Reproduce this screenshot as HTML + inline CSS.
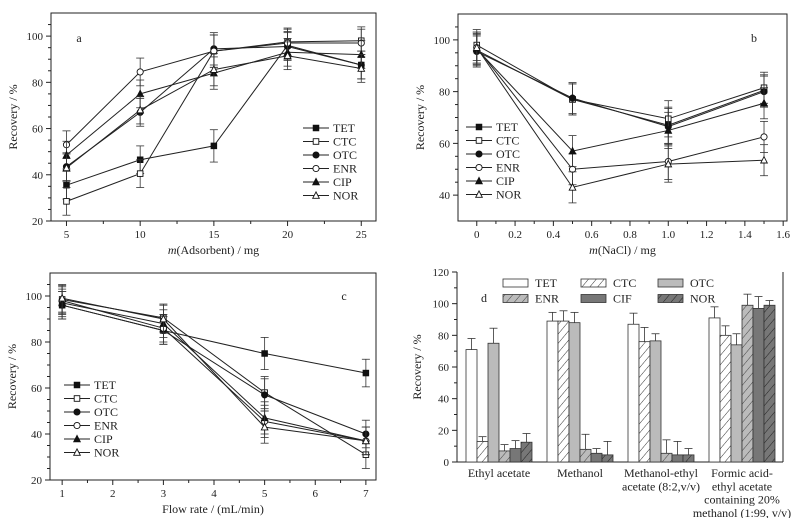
<!DOCTYPE html>
<html><head><meta charset="utf-8"><style>
body{margin:0;background:#fff;}
svg{display:block;}
svg text{font-family:"Liberation Serif","Times New Roman",serif;fill:#222;}
</style></head><body>
<svg id="fig" width="800" height="518" viewBox="0 0 800 518" xmlns="http://www.w3.org/2000/svg">
<defs>
<pattern id="hatchW" width="6" height="6" patternUnits="userSpaceOnUse" patternTransform="rotate(40)"><rect width="6" height="6" fill="#fff"/><line x1="0" y1="0" x2="0" y2="6" stroke="#333" stroke-width="1"/></pattern>
<pattern id="hatchL" width="6" height="6" patternUnits="userSpaceOnUse" patternTransform="rotate(40)"><rect width="6" height="6" fill="#bbb"/><line x1="0" y1="0" x2="0" y2="6" stroke="#444" stroke-width="1"/></pattern>
<pattern id="hatchD" width="6" height="6" patternUnits="userSpaceOnUse" patternTransform="rotate(40)"><rect width="6" height="6" fill="#777"/><line x1="0" y1="0" x2="0" y2="6" stroke="#222" stroke-width="1"/></pattern>
</defs>
</svg>
<script>
// ---- Panel a data ----
const aX = [5, 10, 15, 20, 25];
const aTET = [35.5, 46.5, 52.5, 96, 87.5];
const aCTC = [28.5, 40.5, 93.5, 97.5, 98];
const aOTC = [43.5, 67, 94.5, 95.5, 87.5];
const aENR = [53, 84.5, 93.5, 97, 97];
const aCIP = [48.5, 75, 84, 93, 92];
const aNOR = [43, 68, 85.5, 91.5, 86];
const aXTicks = [5, 10, 15, 20, 25];
const aYTicks = [20, 40, 60, 80, 100];
// ---- Panel b data ----
const bX = [0, 0.5, 1.0, 1.5];
const bTET = [96, 77, 67, 80.5];
const bCTC = [98, 77, 69.5, 81.5];
const bOTC = [95.5, 77.5, 66.5, 80];
const bENR = [97, 50, 53, 62.5];
const bCIP = [96.5, 57, 65, 75.5];
const bNOR = [97, 43, 52, 53.5];
const bXTicks = ["0", "0.2", "0.4", "0.6", "0.8", "1.0", "1.2", "1.4", "1.6"];
const bYTicks = [40, 60, 80, 100];
// ---- Panel c data ----
const cX = [1, 3, 5, 7];
const cTET = [96, 85, 75, 66.5];
const cCTC = [98.5, 90.5, 58, 31];
const cOTC = [96, 85, 57, 40];
const cENR = [98, 86, 45.5, 37];
const cCIP = [97, 88, 47, 37];
const cNOR = [99, 90, 43, 37];
const cXTicks = [1, 2, 3, 4, 5, 6, 7];
const cYTicks = [20, 40, 60, 80, 100];
// shared error magnitude
const lineErr = [6, 6, 7, 6];
// ---- Panel d data ----
const dCats = [["Ethyl acetate"], ["Methanol"], ["Methanol-ethyl", "acetate (8:2,v/v)"], ["Formic acid-", "ethyl acetate", "containing 20%", "methanol (1:99, v/v)"]];
const dTET = [71, 89, 87, 91];
const dCTC = [13, 89, 76, 80];
const dOTC = [75, 88, 76.5, 74];
const dENR = [7, 8, 5.5, 99];
const dCIF = [8.5, 5.5, 4.5, 97];
const dNOR = [12.5, 4.5, 4.5, 99];
const dTETe = [7, 5.5, 7, 7];
const dCTCe = [3, 6.5, 9, 6];
const dOTCe = [9.5, 6.5, 4.5, 7];
const dENRe = [4, 9.5, 8.5, 7];
const dCIFe = [5, 3, 8.5, 7.5];
const dNORe = [5.5, 8.5, 4, 3];
const dYTicks = [0, 20, 40, 60, 80, 100, 120];

const NS = "http://www.w3.org/2000/svg";
const svg = document.getElementById("fig");
function mk(tag, attrs, parent) {
  const e = document.createElementNS(NS, tag);
  for (const k in attrs) e.setAttribute(k, attrs[k]);
  (parent || svg).appendChild(e);
  return e;
}
function txt(s, x, y, size, anchor, parent) {
  const t = mk("text", {x: x, y: y, "font-size": size, "text-anchor": anchor || "middle", "font-family": "Liberation Serif, serif"}, parent);
  t.textContent = s;
  return t;
}
function marker(g, type, x, y) {
  const s = 2.8;
  let m;
  const fill = (type % 2 === 0) ? "#111" : "#fff";
  if (type < 2) m = mk("rect", {x: x - s, y: y - s, width: 2 * s, height: 2 * s, fill: fill, stroke: "#111", "stroke-width": 0.9}, g);
  else if (type < 4) m = mk("circle", {cx: x, cy: y, r: s + 0.3, fill: fill, stroke: "#111", "stroke-width": 0.9}, g);
  else m = mk("polygon", {points: `${x},${y - s - 0.8} ${x - s - 0.5},${y + s} ${x + s + 0.5},${y + s}`, fill: fill, stroke: "#111", "stroke-width": 0.9}, g);
  return m;
}

function linePanel(o) {
  const g = mk("g", {});
  
  
  const sx = v => o.L + (v - o.x0) / (o.x1 - o.x0) * (o.R - o.L);
  const sy = v => o.B - (v - o.y0) / (o.y1 - o.y0) * (o.B - o.T);
  const frame = mk("rect", {x: o.L, y: o.T, width: o.R - o.L, height: o.B - o.T, fill: "none", stroke: "#222", "stroke-width": 1}, g);
  
  
  o.xticks.forEach((lab, i) => {
    const v = parseFloat(lab);
    const x = sx(v);
    mk("line", {x1: x, y1: o.B, x2: x, y2: o.B + 5, stroke: "#222"}, g);
    const t = txt(String(lab), x, o.B + 17, 11, "middle", g);
    
    
    if (i < o.xticks.length - 1) {
      const nv = parseFloat(o.xticks[i + 1]);
      const mx = sx((v + nv) / 2);
      mk("line", {x1: mx, y1: o.B, x2: mx, y2: o.B + 3, stroke: "#222"}, g);
    }
  });
  o.yticks.forEach((v, i) => {
    const y = sy(v);
    mk("line", {x1: o.L - 5, y1: y, x2: o.L, y2: y, stroke: "#222"}, g);
    const t = txt(String(v), o.L - 8, y + 4, 11, "end", g);
    
    
    for (let k = 1; k < 4; k++) {
      const my = sy(v + k * 5);
      if (my > o.T) mk("line", {x1: o.L - 3, y1: my, x2: o.L, y2: my, stroke: "#222"}, g);
    }
  });
  const yl = txt("Recovery / %", 0, 0, 12, "middle", g);
  yl.setAttribute("transform", `translate(${o.L - 34},${(o.T + o.B) / 2}) rotate(-90)`);
  
  
  const xl = mk("text", {x: (o.L + o.R) / 2, y: o.B + 33, "font-size": 12, "text-anchor": "middle", "font-family": "Liberation Serif, serif"}, g);
  xl.innerHTML = o.xtitle;
  
  
  const pl = txt(o.letter, o.lx, o.ly, 12, "middle", g);
  
  
  o.series.forEach((ser, si) => {
    const sg = mk("g", {}, g);
    
    
    const pts = ser.map((v, i) => `${sx(o.xs[i])},${sy(v)}`).join(" ");
    const pl2 = mk("polyline", {points: pts, fill: "none", stroke: "#222", "stroke-width": 1}, sg);
    
    
    ser.forEach((v, i) => {
      const x = sx(o.xs[i]), e = lineErr[i % lineErr.length];
      mk("line", {x1: x, y1: sy(v - e), x2: x, y2: sy(v + e), stroke: "#333", "stroke-width": 0.8}, sg);
      mk("line", {x1: x - 4, y1: sy(v - e), x2: x + 4, y2: sy(v - e), stroke: "#333", "stroke-width": 0.8}, sg);
      mk("line", {x1: x - 4, y1: sy(v + e), x2: x + 4, y2: sy(v + e), stroke: "#333", "stroke-width": 0.8}, sg);
    });
    ser.forEach((v, i) => {
      const m = marker(sg, si, sx(o.xs[i]), sy(v));
      
      
    });
  });
  const lg = mk("g", {}, g);
  
  
  o.names.forEach((n, i) => {
    const y = o.legY + i * 13.5;
    const eg = mk("g", {}, lg);
    
    
    mk("line", {x1: o.legX, y1: y, x2: o.legX + 26, y2: y, stroke: "#222"}, eg);
    marker(eg, i, o.legX + 13, y);
    txt(n, o.legX + 30, y + 4, 12, "start", eg);
  });
}

const names = ["TET", "CTC", "OTC", "ENR", "CIP", "NOR"];
linePanel({name: "panel-a", L: 51, R: 376, T: 13, B: 221, x0: 3.95, x1: 26, y0: 20, y1: 110,
  xs: aX, series: [aTET, aCTC, aOTC, aENR, aCIP, aNOR], names: names, xticks: aXTicks, yticks: aYTicks,
  xtitle: '<tspan font-style="italic">m</tspan>(Adsorbent) / mg', letter: "a", lx: 79, ly: 42, legX: 303, legY: 128});
linePanel({name: "panel-b", L: 458, R: 787, T: 14, B: 221, x0: -0.098, x1: 1.62, y0: 30, y1: 110,
  xs: bX, series: [bTET, bCTC, bOTC, bENR, bCIP, bNOR], names: names, xticks: bXTicks, yticks: bYTicks,
  xtitle: '<tspan font-style="italic">m</tspan>(NaCl) / mg', letter: "b", lx: 754, ly: 42, legX: 466, legY: 127});
linePanel({name: "panel-c", L: 50, R: 376, T: 273, B: 480, x0: 0.76, x1: 7.2, y0: 20, y1: 110,
  xs: cX, series: [cTET, cCTC, cOTC, cENR, cCIP, cNOR], names: names, xticks: cXTicks, yticks: cYTicks,
  xtitle: 'Flow rate / (mL/min)', letter: "c", lx: 344, ly: 300, legX: 64, legY: 385});

(function () {
  const L = 457, R = 783, T = 272, B = 462;
  const sy = v => B - v / 120 * (B - T);
  const g = mk("g", {});
  
  
  mk("line", {x1: L, y1: T, x2: L, y2: B, stroke: "#222"}, g);
  mk("line", {x1: L, y1: B, x2: R, y2: B, stroke: "#222"}, g);
  mk("line", {x1: R, y1: T, x2: R, y2: B, stroke: "#222"}, g);
  dYTicks.forEach(v => {
    const y = sy(v);
    mk("line", {x1: L - 5, y1: y, x2: L, y2: y, stroke: "#222"}, g);
    if (v < 120) mk("line", {x1: L - 3, y1: sy(v + 10), x2: L, y2: sy(v + 10), stroke: "#222"}, g);
    const t = txt(String(v), L - 8, y + 4, 11, "end", g);
    
    
  });
  const yl = txt("Recovery / %", 0, 0, 12, "middle", g);
  yl.setAttribute("transform", `translate(${L - 36},${(T + B) / 2}) rotate(-90)`);
  
  
  const pl = txt("d", 484, 302, 12, "middle", g);
  
  
  const series = [dTET, dCTC, dOTC, dENR, dCIF, dNOR];
  const errs = [dTETe, dCTCe, dOTCe, dENRe, dCIFe, dNORe];
  const fills = ["#fff", "url(#hatchW)", "#bbb", "url(#hatchL)", "#777", "url(#hatchD)"];
  const snames = ["TET", "CTC", "OTC", "ENR", "CIF", "NOR"];
  const groupStart = i => 466 + i * 81;
  const bw = 11;
  series.forEach((ser, si) => {
    const sg = mk("g", {}, g);
    
    
    ser.forEach((v, ci) => {
      const x = groupStart(ci) + si * bw;
      const r = mk("rect", {x: x, y: sy(v), width: bw, height: B - sy(v), fill: fills[si], stroke: "#333", "stroke-width": 0.8}, sg);
      
      
      const e = errs[si][ci], cx = x + bw / 2;
      mk("line", {x1: cx, y1: sy(v), x2: cx, y2: sy(v + e), stroke: "#333", "stroke-width": 0.8}, sg);
      mk("line", {x1: cx - 4, y1: sy(v + e), x2: cx + 4, y2: sy(v + e), stroke: "#333", "stroke-width": 0.8}, sg);
    });
  });
  dCats.forEach((lines, ci) => {
    const cx = groupStart(ci) + 3 * bw;
    lines.forEach((s, li) => {
      const t = txt(s, cx, 477 + li * 13.3, 12, "middle", g);
      
      
    });
  });
  const lg = mk("g", {}, g);
  
  
  const cols = [503, 581, 658];
  snames.forEach((n, i) => {
    const x = cols[i % 3], y = 279 + Math.floor(i / 3) * 15.5;
    const eg = mk("g", {}, lg);
    
    
    mk("rect", {x: x, y: y, width: 25, height: 8, fill: fills[i], stroke: "#333", "stroke-width": 0.8}, eg);
    txt(n, x + 32, y + 8, 12, "start", eg);
  });
})();
</script>
</body></html>
